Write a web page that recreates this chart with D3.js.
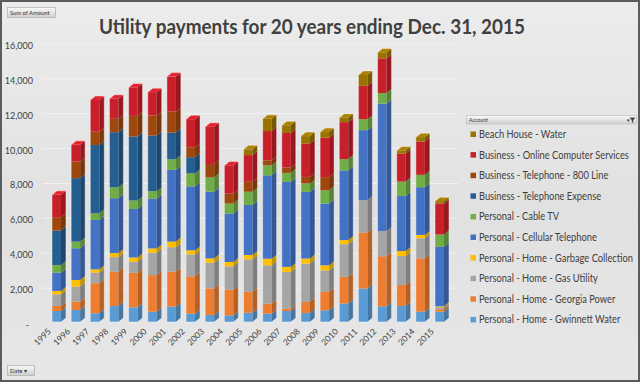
<!DOCTYPE html>
<html>
<head>
<meta charset="utf-8">
<script src="https://cdn.jsdelivr.net/npm/d3@7"></script>
<style>
  body { margin: 0; background: #fff; }
  svg { display: block; }
</style>
</head>
<body>
<div id="chart"></div>
<script>
// Chart size
const width = 640;
const height = 382;

// Categories
const years = ['1995', '1996', '1997', '1998', '1999', '2000', '2001', '2002', '2003', '2004',
    '2005', '2006', '2007', '2008', '2009', '2010', '2011', '2012', '2013', '2014', '2015'];

// Series values (dollars), bottom of the stack first
const gwinnettWater = [630, 690, 500, 920, 840, 590, 880, 480, 400, 380, 530, 480, 630, 520, 670, 1060, 1920, 900, 920, 590, 590];
const georgiaPower  = [290, 480, 1720, 1970, 1980, 2100, 2010, 2140, 1530, 1470, 1200, 570, 140, 630, 1050, 1530, 3210, 2870, 1200, 3060, 140];
const gasUtility    = [670, 860, 610, 830, 630, 1280, 1400, 1260, 1470, 1340, 1860, 2200, 2100, 2200, 1240, 1870, 1860, 1450, 1660, 1150, 120];
const garbage       = [190, 380, 190, 230, 250, 250, 320, 230, 250, 250, 250, 380, 290, 290, 290, 240, 0, 0, 290, 190, 50];
const cellular      = [1050, 1820, 2830, 3150, 2780, 2840, 4110, 3670, 3820, 2780, 2870, 4780, 4870, 3820, 3540, 3990, 4010, 7300, 3150, 2740, 3410];
const cableTV       = [440, 380, 380, 630, 490, 440, 610, 750, 830, 570, 760, 570, 520, 480, 760, 650, 630, 610, 830, 710, 710];
const bizTelephone  = [1970, 3640, 3920, 3150, 3670, 3190, 1530, 920, 0, 0, 0, 0, 0, 0, 0, 0, 0, 0, 0, 0, 0];
const bizLine800    = [770, 950, 760, 770, 1180, 1150, 1200, 570, 760, 570, 570, 290, 310, 380, 760, 0, 0, 0, 0, 0, 0];
const bizOnline     = [1280, 960, 1820, 1150, 1630, 1340, 2010, 1610, 2140, 1620, 1530, 1680, 1980, 1920, 2260, 2120, 1910, 1990, 1610, 1910, 1780];
const beachWater    = [0, 0, 0, 0, 0, 0, 0, 0, 0, 0, 330, 700, 440, 420, 320, 250, 630, 340, 170, 250, 130];

// Series names (same order as the values)
const seriesNames = [
    'Personal - Home - Gwinnett Water',
    'Personal - Home - Georgia Power',
    'Personal - Home - Gas Utility',
    'Personal - Home - Garbage Collection',
    'Personal - Cellular Telephone',
    'Personal - Cable TV',
    'Business - Telephone Expense',
    'Business - Telephone - 800 Line',
    'Business - Online Computer Services',
    'Beach House - Water'
];
const seriesValues = [gwinnettWater, georgiaPower, gasUtility, garbage, cellular, cableTV,
    bizTelephone, bizLine800, bizOnline, beachWater];

// Tick values for the y axis
const yTicks = [0, 2000, 4000, 6000, 8000, 10000, 12000, 14000, 16000];

// Series colours
const colors = ['#5b9bd5', '#ed7d31', '#a5a5a5', '#ffc000', '#4472c4', '#70ad47',
    '#255e91', '#9e480e', '#c8202a', '#997300'];

// Build the table for d3.stack
const table = years.map((yr, i) => {
    const row = { year: yr };
    seriesNames.forEach((name, k) => { row[name] = seriesValues[k][i]; });
    return row;
});
const stacked = d3.stack().keys(seriesNames)(table);

const svg = d3.select('#chart')
    .append('svg')
    .attr('width', width)
    .attr('height', height)
    .style('font-family', 'Lato, "Open Sans", sans-serif');

const defs = svg.append('defs');
const bg = defs.append('linearGradient').attr('id', 'bg').attr('x1', 0).attr('x2', 0).attr('y1', 0).attr('y2', 1);
bg.append('stop').attr('offset', '0%').attr('stop-color', '#ececec');
bg.append('stop').attr('offset', '55%').attr('stop-color', '#e1e1e1');
bg.append('stop').attr('offset', '100%').attr('stop-color', '#e7e7e7');

const btn = defs.append('linearGradient').attr('id', 'btn').attr('x1', 0).attr('x2', 0).attr('y1', 0).attr('y2', 1);
btn.append('stop').attr('offset', '0%').attr('stop-color', '#fafafa');
btn.append('stop').attr('offset', '100%').attr('stop-color', '#cfcfcf');

// Background and frame
svg.append('rect')
    .attr('x', 1).attr('y', 1)
    .attr('width', width - 2).attr('height', height - 2)
    .attr('fill', 'url(#bg)')
    .attr('stroke', '#5c5c5c')
    .attr('stroke-width', 2);

// Scales
const x = d3.scaleBand()
    .domain(years)
    .range([47.2, 448.8])
    .paddingInner(0.53)
    .paddingOuter(0.25);

const y = d3.scaleLinear()
    .domain([0, 16000])
    .range([322, 322 - 16 * 17.44]);

// 3D depth offsets
const dx = 5;
const dy = 4;

// Faint gridlines on the back wall
svg.append('g')
    .selectAll('line')
    .data(yTicks.slice(1))
    .join('line')
    .attr('x1', 42).attr('x2', 458)
    .attr('y1', d => y(d) + 1).attr('y2', d => y(d) + 1)
    .attr('stroke', '#f2f2f2')
    .attr('stroke-width', 1);

// Y axis labels
svg.append('g')
    .selectAll('text')
    .data(yTicks)
    .join('text')
    .attr('x', d => d === 0 ? 29 : 33)
    .attr('y', d => y(d) + 6)
    .attr('text-anchor', 'end')
    .attr('font-size', 9)
    .attr('fill', '#404040')
    .text(d => d === 0 ? '-' : d3.format(',')(d));

// Bars
const bars = svg.append('g');
const bw = x.bandwidth();

stacked.forEach((layer, k) => {
    const c = d3.color(colors[k]);
    const side = c.darker(0.75).formatHex();
    layer.forEach((d, i) => {
        if (d[1] - d[0] <= 0) return;
        const x0 = x(years[i]);
        const yt = y(d[1]);
        const yb = y(d[0]);
        bars.append('rect')
            .attr('x', x0).attr('y', yt)
            .attr('width', bw).attr('height', yb - yt)
            .attr('fill', colors[k]);
        bars.append('polygon')
            .attr('points', [[x0 + bw, yt], [x0 + bw + dx, yt - dy], [x0 + bw + dx, yb - dy], [x0 + bw, yb]].join(' '))
            .attr('fill', side);
    });
});

// Top faces, coloured by the top-most segment of each bar
years.forEach((yr, i) => {
    let topK = 0;
    seriesValues.forEach((vals, k) => { if (vals[i] > 0) topK = k; });
    const total = stacked[stacked.length - 1][i][1];
    const x0 = x(yr);
    const yt = y(total);
    bars.append('polygon')
        .attr('points', [[x0, yt], [x0 + dx, yt - dy], [x0 + bw + dx, yt - dy], [x0 + bw, yt]].join(' '))
        .attr('fill', d3.color(colors[topK]).brighter(0.35).formatHex());
    // light outline round the bar
    bars.append('polygon')
        .attr('points', [[x0, y(0)], [x0, yt], [x0 + dx, yt - dy], [x0 + bw + dx, yt - dy], [x0 + bw + dx, y(0) - dy], [x0 + bw, y(0)]].join(' '))
        .attr('fill', 'none')
        .attr('stroke', '#ffffff')
        .attr('stroke-opacity', 0.55)
        .attr('stroke-width', 0.8);
});

// X axis labels
svg.append('g')
    .selectAll('text')
    .data(years)
    .join('text')
    .attr('transform', d => `translate(${x(d) + bw / 2 - 5},332) rotate(-45)`)
    .attr('text-anchor', 'end')
    .attr('font-size', 8.5)
    .attr('fill', '#404040')
    .text(d => d);

// Title
svg.append('text')
    .attr('x', 99)
    .attr('y', 34)
    .attr('textLength', 426)
    .attr('lengthAdjust', 'spacingAndGlyphs')
    .attr('font-size', 21)
    .attr('font-weight', 700)
    .attr('fill', '#404040')
    .text('Utility payments for 20 years ending Dec. 31, 2015');

// Field buttons
svg.append('rect')
    .attr('x', 7.5).attr('y', 7.5).attr('width', 48).attr('height', 10)
    .attr('fill', 'url(#btn)').attr('stroke', '#b4b4b4').attr('stroke-width', 0.8);
svg.append('text')
    .attr('x', 10).attr('y', 14.6)
    .attr('font-size', 5.8).attr('fill', '#333')
    .text('Sum of Amount');

svg.append('rect')
    .attr('x', 7.5).attr('y', 365.5).attr('width', 27).attr('height', 10)
    .attr('fill', 'url(#btn)').attr('stroke', '#b4b4b4').attr('stroke-width', 0.8);
svg.append('text')
    .attr('x', 10).attr('y', 372.6)
    .attr('font-size', 5.8).attr('fill', '#333')
    .text('Date \u25BE');

// Legend
const legend = svg.append('g');
legend.append('rect')
    .attr('x', 466.5).attr('y', 115.5).attr('width', 170).attr('height', 8.5)
    .attr('fill', 'url(#btn)').attr('stroke', '#c4c4c4').attr('stroke-width', 0.8);
legend.append('text')
    .attr('x', 469).attr('y', 121.8)
    .attr('font-size', 5.2).attr('fill', '#333')
    .text('Account');
legend.append('text')
    .attr('x', 626).attr('y', 122)
    .attr('font-size', 4.5).attr('fill', '#333')
    .text('\u25BC');
legend.append('path')
    .attr('d', 'M629.5,117.5 h6 l-2.3,2.8 v2.6 l-1.4,-0.8 v-1.8 z')
    .attr('fill', '#444');

const legendKeys = seriesNames.slice().reverse();
const legendColors = colors.slice().reverse();
const rows = legend.selectAll('g.item')
    .data(legendKeys)
    .join('g')
    .attr('class', 'item');

rows.append('rect')
    .attr('x', 470.5)
    .attr('y', (d, i) => 134.3 + i * 20.6 - 2.8)
    .attr('width', 5.5).attr('height', 5.5)
    .attr('fill', (d, i) => legendColors[i]);

const labels = rows.append('text')
    .attr('font-size', 10.5)
    .attr('fill', '#404040')
    .text(d => d);

// squeeze the legend text to the narrow width of the original font
let widest = 1;
labels.each(function(d) {
    if (d === 'Business - Online Computer Services') widest = this.getComputedTextLength();
});
const k = 150 / widest;
labels.attr('transform', (d, i) => `translate(479,${134.3 + i * 20.6 + 3.6}) scale(${k},1)`);
</script>
</body>
</html>
